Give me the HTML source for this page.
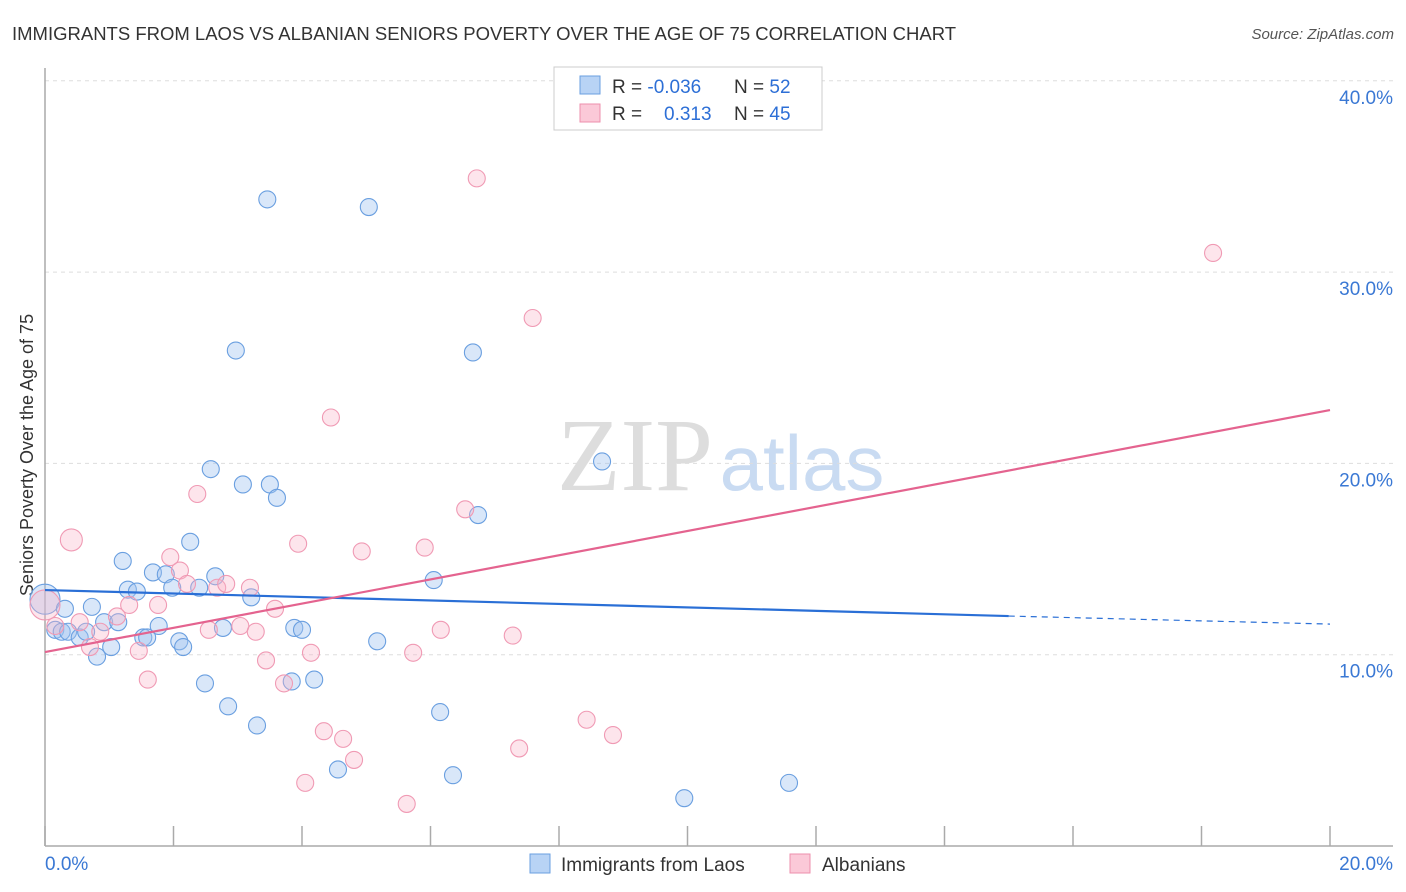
<!DOCTYPE html>
<html><head><meta charset="utf-8"><style>
body{margin:0;background:#fff;font-family:"Liberation Sans",sans-serif;}
svg{display:block}
</style></head><body>
<svg id="chart" width="1406" height="892">
<text x="12" y="40" font-size="18.5" fill="#333">IMMIGRANTS FROM LAOS VS ALBANIAN SENIORS POVERTY OVER THE AGE OF 75 CORRELATION CHART</text>
<text x="1394" y="39" font-size="15" fill="#555" font-style="italic" text-anchor="end">Source: ZipAtlas.com</text>
<text transform="translate(33,455) rotate(-90)" font-size="18" fill="#333" text-anchor="middle">Seniors Poverty Over the Age of 75</text>
<g><text x="635" y="490" font-size="104" font-family="Liberation Serif,serif" fill="#ddd" text-anchor="middle">ZIP</text><text x="802" y="490" font-size="78" fill="#c9dbf2" text-anchor="middle">atlas</text></g>
<g id="grid"></g><g id="axes"></g><g id="pts"></g><g id="trends"></g>
<g>
<rect x="554" y="67" width="268" height="63" fill="#fff" stroke="#ccc"/>
<rect x="580" y="76" width="20" height="18" fill="#b8d3f5" stroke="#6a9fe0"/>
<rect x="580" y="104" width="20" height="18" fill="#fbc9d8" stroke="#ee8fac"/>
<text x="612" y="93" font-size="19" fill="#333">R = <tspan fill="#2d6fd6">-0.036</tspan></text>
<text x="734" y="93" font-size="19" fill="#333">N = <tspan fill="#2d6fd6">52</tspan></text>
<text x="612" y="120" font-size="19" fill="#333">R = <tspan fill="#2d6fd6" x="664">0.313</tspan></text>
<text x="734" y="120" font-size="19" fill="#333">N = <tspan fill="#2d6fd6">45</tspan></text>
</g>
<g>
<rect x="530" y="854" width="20" height="19" fill="#b8d3f5" stroke="#6a9fe0"/>
<text x="561" y="871" font-size="19" fill="#333">Immigrants from Laos</text>
<rect x="790" y="854" width="20" height="19" fill="#fbc9d8" stroke="#ee8fac"/>
<text x="822" y="871" font-size="19" fill="#333">Albanians</text>
</g>
</svg>
<script>
const yTicks=[10,20,30,40];
const xTickLabels=["0.0%","20.0%"];
const laosX=[0,0.16,0.26,0.31,0.36,0.54,0.73,0.64,0.81,0.92,1.03,1.14,1.21,1.29,1.43,1.53,1.59,1.68,1.77,1.88,1.98,2.09,2.15,2.26,2.4,2.49,2.58,2.65,2.77,2.85,2.97,3.08,3.21,3.3,3.46,3.5,3.61,3.88,3.84,4,4.19,4.56,5.04,5.17,6.05,6.15,6.35,6.66,6.74,8.67,9.95,11.58];
const laosY=[12.9,11.3,11.2,12.4,11.2,10.9,12.5,11.2,9.9,11.7,10.4,11.7,14.9,13.4,13.3,10.9,10.9,14.3,11.5,14.2,13.5,10.7,10.4,15.9,13.5,8.5,19.7,14.1,11.4,7.3,25.9,18.9,13,6.3,33.8,18.9,18.2,11.4,8.6,11.3,8.7,4,33.4,10.7,13.9,7,3.7,25.8,17.3,20.1,2.5,3.3];
const albX=[0.41,0,0.16,0.54,0.7,0.86,1.12,1.31,1.46,1.6,1.76,1.95,2.1,2.21,2.37,2.55,2.68,2.82,3.04,3.19,3.28,3.44,3.58,3.72,3.94,4.05,4.14,4.34,4.45,4.64,4.81,4.93,5.63,5.73,5.91,6.16,6.54,6.72,7.28,7.38,7.59,8.43,8.84,18.18];
const albY=[16,12.6,11.5,11.7,10.4,11.2,12,12.6,10.2,8.7,12.6,15.1,14.4,13.7,18.4,11.3,13.5,13.7,11.5,13.5,11.2,9.7,12.4,8.5,15.8,3.3,10.1,6,22.4,5.6,4.5,15.4,2.2,10.1,15.6,11.3,17.6,34.9,11,5.1,27.6,6.6,5.8,31];
const laosTrend=[[0,13.38],[15,12.02],[20,11.6]];
const albTrend=[[0,10.14],[20,22.79]];
const X=v=>45+v*64.25, Y=v=>846-v*19.13;
const NS="http://www.w3.org/2000/svg";
function mk(t,a,p){const e=document.createElementNS(NS,t);for(const k in a)e.setAttribute(k,a[k]);p.appendChild(e);return e;}
const grid=document.getElementById('grid'),axes=document.getElementById('axes'),pts=document.getElementById('pts'),tr=document.getElementById('trends');
yTicks.forEach(t=>{
 const l=mk('line',{x1:45,x2:1393,y1:Y(t),y2:Y(t),stroke:'#ddd','stroke-dasharray':'4,4'},grid);
 
 
 const tx=mk('text',{x:1393,y:Y(t)+23,'font-size':19,fill:'#3a78d4','text-anchor':'end'},axes);tx.textContent=t.toFixed(1)+'%';
 
 
});
const ax=mk('line',{x1:45,x2:45,y1:68,y2:846,stroke:'#aaa','stroke-width':1.5},axes);


const bx=mk('line',{x1:45,x2:1393,y1:846,y2:846,stroke:'#aaa','stroke-width':1.5},axes);


for(let i=0;i<=10;i++){const tk=mk('line',{x1:X(i*2),x2:X(i*2),y1:826,y2:846,stroke:'#aaa','stroke-width':1.5},axes);
 
 }
[[0,'start',45],[20,'end',1393]].forEach((d,i)=>{const t=mk('text',{x:d[2],y:870,'font-size':19,fill:'#3a78d4','text-anchor':d[1]},axes);t.textContent=xTickLabels[i];
 
 });
laosX.forEach((x,i)=>{const c=mk('circle',{cx:X(x),cy:Y(laosY[i]),r:i==0?15:8.5,fill:'rgba(160,195,240,0.4)',stroke:'#6a9fe0','stroke-width':1.1},pts);
 
 });
albX.forEach((x,i)=>{const c=mk('circle',{cx:X(x),cy:Y(albY[i]),r:i==0?11:(i==1?15:8.5),fill:'rgba(248,180,200,0.35)',stroke:'#f09ab4','stroke-width':1.1},pts);
 
 });
const l1=mk('line',{x1:X(laosTrend[0][0]),y1:Y(laosTrend[0][1]),x2:X(laosTrend[1][0]),y2:Y(laosTrend[1][1]),stroke:'#2a6fd6','stroke-width':2.2},tr);


const l2=mk('line',{x1:X(laosTrend[1][0]),y1:Y(laosTrend[1][1]),x2:X(laosTrend[2][0]),y2:Y(laosTrend[2][1]),stroke:'#2a6fd6','stroke-width':1.2,'stroke-dasharray':'6,5'},tr);


const l3=mk('line',{x1:X(albTrend[0][0]),y1:Y(albTrend[0][1]),x2:X(albTrend[1][0]),y2:Y(albTrend[1][1]),stroke:'#e4638f','stroke-width':2.2},tr);


</script>
</body></html>
